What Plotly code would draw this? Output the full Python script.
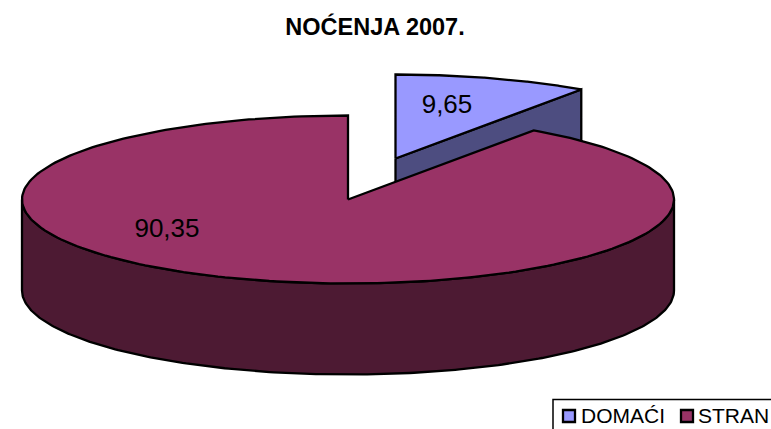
import numpy as np
import plotly.graph_objects as go

title = "NOĆENJA 2007."
categories = ["DOMAĆI", "STRAN"]
values = [9.65, 90.35]

colors_top = ["#9999FF", "#993366"]
colors_side = ["#4D4D80", "#4D1A33"]
LINE = dict(color="black", width=2.3)

# pixel geometry of the tilted pie
RX, RY, DEPTH = 326, 84, 91
CENTRE = [(395.5, 158.5), (348, 199.5)]

ang = 2 * np.pi * np.cumsum([0] + values) / sum(values)


def rim(c, t0, t1, dy=0, n=240):
    t = np.linspace(t0, t1, n)
    return c[0] + RX * np.sin(t), c[1] + dy - RY * np.cos(t)


fig = go.Figure()


def poly(x, y, color):
    fig.add_trace(go.Scatter(x=list(x), y=list(y), mode="lines", fill="toself",
                             fillcolor=color, line=LINE, hoverinfo="skip",
                             showlegend=False))


# small exploded slice: cut face, then top
c = CENTRE[0]
ex, ey = rim(c, ang[1], ang[1], n=1)
poly([c[0], ex[0], ex[0], c[0], c[0]],
     [c[1], ey[0], ey[0] + DEPTH, c[1] + DEPTH, c[1]], colors_side[0])
x, y = rim(c, ang[0], ang[1])
poly(np.r_[c[0], x, c[0]], np.r_[c[1], y, c[1]], colors_top[0])

# main slice: front wall, then top
c = CENTRE[1]
xa, ya = rim(c, np.pi / 2, 3 * np.pi / 2)
xb, yb = rim(c, 3 * np.pi / 2, np.pi / 2, dy=DEPTH)
poly(np.r_[xa, xb, xa[0]], np.r_[ya, yb, ya[0]], colors_side[1])
x, y = rim(c, ang[1], ang[2])
poly(np.r_[c[0], x, c[0]], np.r_[c[1], y, c[1]], colors_top[1])

# data labels
fig.add_trace(go.Scatter(
    x=[447, 167], y=[106, 230], mode="text",
    text=[f"{v:.2f}".replace(".", ",") for v in values],
    textposition="middle center",
    textfont=dict(family="Liberation Sans", size=26, color="black"),
    hoverinfo="skip", showlegend=False))

# legend box
fig.add_shape(type="rect", x0=553, x1=790, y0=399.5, y1=450,
              line=dict(color="black", width=1.5), fillcolor="white", layer="below")
fig.add_trace(go.Scatter(
    x=[569, 687], y=[416, 416], mode="markers",
    marker=dict(symbol="square", size=12, color=colors_top,
                line=dict(color="black", width=2.3)),
    hoverinfo="skip", showlegend=False, cliponaxis=False))
fig.add_trace(go.Scatter(
    x=[581, 698], y=[418, 418], mode="text",
    text=categories, textposition="middle right",
    textfont=dict(family="Liberation Sans", size=21, color="black"),
    hoverinfo="skip", showlegend=False, cliponaxis=False))

fig.update_layout(
    width=771, height=429, margin=dict(l=0, r=0, t=0, b=0),
    paper_bgcolor="white", plot_bgcolor="white", showlegend=False,
    title=dict(text=f"<b>{title}</b>", x=375 / 771, y=1 - 27 / 429,
               xanchor="center", yanchor="middle",
               font=dict(family="Liberation Sans", size=23.5, color="black")),
    xaxis=dict(range=[0, 771], visible=False, fixedrange=True),
    yaxis=dict(range=[429, 0], visible=False, fixedrange=True),
)
fig.write_html("out.html", config={"displayModeBar": False},
               post_script="document.body.style.margin='0';document.body.style.overflow='hidden';")
